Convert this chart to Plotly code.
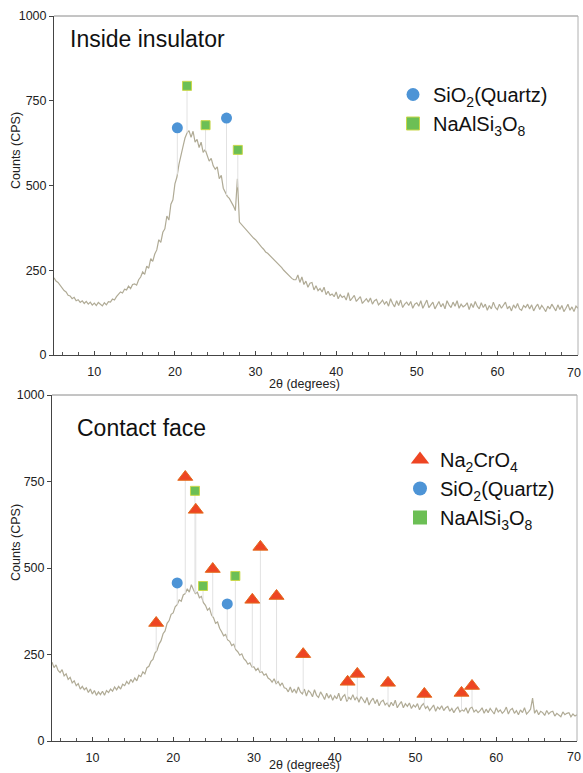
import numpy as np
import plotly.graph_objects as go

# ---------------- DATA ----------------
two_theta_start = 5.0
two_theta_step = 0.25

# Inside insulator pattern (counts, read every 0.25 deg from 5 to 70)
inside_counts = [
    228, 218, 214, 205,
    199, 190, 186, 176,
    174, 166, 170, 160,
    163, 155, 160, 152,
    158, 150, 156, 147,
    153, 146, 155, 149,
    145, 154, 148, 157,
    156, 165, 162, 172,
    178, 186, 183, 194,
    192, 203, 196, 208,
    210, 206, 222, 230,
    245, 238, 262, 256,
    284, 276, 298, 310,
    340, 332, 362, 372,
    410, 398, 445, 458,
    505, 525, 562, 585,
    615, 640, 655, 662,
    642, 660, 628, 636,
    612, 628, 598, 606,
    588, 572, 580, 558,
    548, 555, 520, 530,
    492, 478, 468, 462,
    452, 440, 426, 520,
    392, 385, 378, 372,
    366, 358, 350, 345,
    340, 332, 326, 318,
    312, 304, 300, 294,
    290, 284, 276, 270,
    266, 258, 250, 244,
    236, 232, 226, 222,
    222, 236, 214, 230,
    208, 218, 200, 212,
    214, 192, 204, 190,
    196, 186, 200, 178,
    188, 176, 180, 172,
    186, 166, 178, 170,
    174, 162, 184, 160,
    168, 176, 158, 164,
    172, 152, 160, 166,
    156, 168, 150, 160,
    164, 148, 154, 162,
    150, 158, 144, 166,
    152, 142, 160, 146,
    162, 140, 150, 156,
    146, 158, 138, 150,
    154, 144, 160, 138,
    150, 162, 140, 148,
    156, 136, 146, 158,
    142, 152, 136, 160,
    148, 140, 156, 144,
    160, 138, 150, 142,
    146, 154, 134, 152,
    140, 158, 144, 136,
    154, 140, 150, 132,
    146, 136, 156, 140,
    134, 150, 138, 148,
    156, 136, 144, 130,
    148, 138, 152, 136,
    132, 146, 140, 150,
    136, 148, 130, 142,
    150, 134, 146, 138,
    128, 144, 136, 150,
    140, 130, 148, 134,
    146, 128, 138, 150,
    132, 142, 128, 144,
    138,
]

# Contact face pattern (counts, read every 0.25 deg from 5 to 70)
contact_counts = [
    228, 212, 220, 204,
    198, 206, 188, 194,
    178, 184, 168, 174,
    160, 166, 150, 158,
    148, 154, 140, 150,
    136, 146, 132, 142,
    134, 144, 132, 146,
    140, 150, 144, 156,
    148, 158, 150, 164,
    160, 172, 164, 178,
    170, 182, 174, 190,
    186, 200, 194, 212,
    216, 230, 236, 254,
    262, 280, 290, 310,
    318, 340, 348, 366,
    370, 388, 394, 408,
    404, 422, 426, 440,
    430, 452, 438, 426,
    430, 414, 418, 400,
    392, 378, 384, 364,
    356, 340, 344, 326,
    316, 304, 308, 292,
    288, 276, 280, 264,
    258, 248, 252, 238,
    232, 222, 226, 214,
    214, 204, 210, 198,
    200, 190, 194, 182,
    178, 170, 180, 166,
    172, 160, 168, 154,
    152, 142, 156, 140,
    150, 138, 156, 142,
    136, 150, 130, 146,
    140, 128, 148, 132,
    126, 142, 132, 120,
    138, 124, 134, 118,
    130, 122, 138, 116,
    128, 134, 114, 126,
    120, 134, 118, 128,
    112, 128, 120, 110,
    126, 104, 116, 124,
    108, 120, 102, 114,
    118, 104, 110, 98,
    112, 102, 118, 96,
    106, 114, 96, 108,
    100, 110, 94, 104,
    98, 108, 90, 102,
    108, 94, 100, 88,
    96, 104, 86, 98,
    92, 102, 88, 96,
    100, 86, 94, 82,
    92, 98, 84, 90,
    86, 96, 80, 94,
    98, 84, 90, 82,
    88, 96, 80, 92,
    82, 94, 86, 78,
    96, 84, 90, 80,
    86, 98, 78, 90,
    94, 80, 88, 76,
    90, 82, 96, 78,
    84, 92, 124, 80,
    90, 76, 86, 82,
    74, 88, 78, 84,
    86, 72, 80, 76,
    70, 84, 76, 80,
    82, 70, 78, 72,
    76,
]

# Phase peak markers - Inside insulator
in_sio2_x = [20.3, 26.4]
in_sio2_y = [670, 699]
in_albite_x = [21.5, 23.8, 27.8]
in_albite_y = [794, 678, 605]

# Phase peak markers - Contact face
cf_na2cro4_x = [17.9, 21.5, 22.8, 24.9, 29.8, 30.8, 32.8, 36.1, 41.6, 42.8, 46.6, 51.1, 55.7, 57.0]
cf_na2cro4_y = [341, 763, 668, 497, 408, 561, 419, 251, 171, 194, 168, 136, 139, 159]
cf_sio2_x = [20.5, 26.7]
cf_sio2_y = [457, 396]
cf_albite_x = [22.7, 23.7, 27.7]
cf_albite_y = [723, 448, 477]

x_ticks = [10, 20, 30, 40, 50, 60, 70]
x_tick_text = ["10", "20", "30", "40", "50", "60", ""]   # "70" is drawn at the edge below
x_last_label = "70"
y_ticks = [0, 250, 500, 750, 1000]

# ---------------- STYLE ----------------
FONT = "Liberation Sans, Arial, Helvetica, sans-serif"
TRACE_COLOR = "#b0ab96"
BLUE = "#4d94d6"
GREEN = "#6cbf55"
GREEN_EDGE = "#c9d84a"
RED = "#ee4523"
RED_EDGE = "#e36a1c"

tt_in = two_theta_start + two_theta_step * np.arange(len(inside_counts))
tt_cf = two_theta_start + two_theta_step * np.arange(len(contact_counts))

fig = go.Figure()


def drop_lines(px, py, tt, counts, xa, ya):
    xs, ys = [], []
    for x, y in zip(px, py):
        base = float(np.interp(x, tt, counts))
        xs += [x, x, None]
        ys += [base, y, None]
    return go.Scatter(x=xs, y=ys, mode="lines", xaxis=xa, yaxis=ya,
                      line=dict(color="#e2e2e2", width=1),
                      showlegend=False, hoverinfo="skip")


# top panel
fig.add_trace(go.Scatter(x=tt_in, y=inside_counts, mode="lines",
                         line=dict(color=TRACE_COLOR, width=1.2),
                         xaxis="x", yaxis="y", showlegend=False))
fig.add_trace(drop_lines(in_sio2_x + in_albite_x, in_sio2_y + in_albite_y,
                         tt_in, inside_counts, "x", "y"))
fig.add_trace(go.Scatter(x=in_sio2_x, y=in_sio2_y, mode="markers", xaxis="x", yaxis="y",
                         marker=dict(symbol="circle", size=11, color=BLUE,
                                     line=dict(width=0)), showlegend=False))
fig.add_trace(go.Scatter(x=in_albite_x, y=in_albite_y, mode="markers", xaxis="x", yaxis="y",
                         marker=dict(symbol="square", size=9, color=GREEN,
                                     line=dict(width=1, color=GREEN_EDGE)), showlegend=False))
# top legend entries
fig.add_trace(go.Scatter(x=[None], y=[None], mode="markers", xaxis="x", yaxis="y",
                         name="SiO<sub>2</sub>(Quartz)", legend="legend",
                         marker=dict(symbol="circle", size=13, color=BLUE)))
fig.add_trace(go.Scatter(x=[None], y=[None], mode="markers", xaxis="x", yaxis="y",
                         name="NaAlSi<sub>3</sub>O<sub>8</sub>", legend="legend",
                         marker=dict(symbol="square", size=13, color=GREEN,
                                     line=dict(width=1, color=GREEN_EDGE))))

# bottom panel
fig.add_trace(go.Scatter(x=tt_cf, y=contact_counts, mode="lines",
                         line=dict(color=TRACE_COLOR, width=1.2),
                         xaxis="x2", yaxis="y2", showlegend=False))
fig.add_trace(drop_lines(cf_na2cro4_x + cf_sio2_x + cf_albite_x,
                         cf_na2cro4_y + cf_sio2_y + cf_albite_y,
                         tt_cf, contact_counts, "x2", "y2"))
fig.add_trace(go.Scatter(x=cf_na2cro4_x, y=cf_na2cro4_y, mode="markers", xaxis="x2", yaxis="y2",
                         marker=dict(symbol="triangle-up", size=13, color=RED,
                                     line=dict(width=1, color=RED_EDGE)), showlegend=False))
fig.add_trace(go.Scatter(x=cf_sio2_x, y=cf_sio2_y, mode="markers", xaxis="x2", yaxis="y2",
                         marker=dict(symbol="circle", size=11, color=BLUE,
                                     line=dict(width=0)), showlegend=False))
fig.add_trace(go.Scatter(x=cf_albite_x, y=cf_albite_y, mode="markers", xaxis="x2", yaxis="y2",
                         marker=dict(symbol="square", size=9, color=GREEN,
                                     line=dict(width=1, color=GREEN_EDGE)), showlegend=False))
fig.add_trace(go.Scatter(x=[None], y=[None], mode="markers", xaxis="x2", yaxis="y2",
                         name="Na<sub>2</sub>CrO<sub>4</sub>", legend="legend2",
                         marker=dict(symbol="triangle-up", size=16, color=RED)))
fig.add_trace(go.Scatter(x=[None], y=[None], mode="markers", xaxis="x2", yaxis="y2",
                         name="SiO<sub>2</sub>(Quartz)", legend="legend2",
                         marker=dict(symbol="circle", size=14, color=BLUE)))
fig.add_trace(go.Scatter(x=[None], y=[None], mode="markers", xaxis="x2", yaxis="y2",
                         name="NaAlSi<sub>3</sub>O<sub>8</sub>", legend="legend2",
                         marker=dict(symbol="square", size=14, color=GREEN)))

W, H = 583, 773


def px2x(p):
    return p / W


def px2y(p):
    return (H - p) / H


xaxis_common = dict(range=[5, 70], tickvals=x_ticks, ticktext=x_tick_text,
                    ticks="inside", ticklen=4,
                    tickcolor="#444", showline=True, linecolor="#444", linewidth=1,
                    showgrid=False, zeroline=False, automargin=False,
                    ticklabeloverflow="allow",
                    tickfont=dict(family=FONT, size=12.5, color="#222"),
                    minor=dict(dtick=2, ticks="inside", ticklen=3, tickcolor="#555"),
                    ticklabelstandoff=5)
yaxis_common = dict(range=[0, 1000], tickvals=y_ticks, ticks="outside", ticklen=4,
                    tickcolor="#444", showline=True, linecolor="#444", linewidth=1,
                    showgrid=False, zeroline=False, automargin=False,
                    ticklabeloverflow="allow",
                    tickfont=dict(family=FONT, size=12.5, color="#222"))

fig.update_layout(
    template="none",
    width=W, height=H,
    margin=dict(l=0, r=0, t=0, b=0, pad=0),
    font=dict(family=FONT, color="#222"),
    paper_bgcolor="white", plot_bgcolor="white",
    xaxis=dict(domain=[px2x(54), px2x(578)], anchor="y", **xaxis_common),
    yaxis=dict(domain=[px2y(355), px2y(16)], anchor="x", **yaxis_common),
    xaxis2=dict(domain=[px2x(52), px2x(577)], anchor="y2", **xaxis_common),
    yaxis2=dict(domain=[px2y(741), px2y(395)], anchor="x2", **yaxis_common),
    legend=dict(x=px2x(393), y=px2y(75), xanchor="left", yanchor="top",
                bgcolor="rgba(0,0,0,0)", borderwidth=0,
                font=dict(family=FONT, size=20, color="#111"),
                itemsizing="trace"),
    legend2=dict(x=px2x(400), y=px2y(440), xanchor="left", yanchor="top",
                 bgcolor="rgba(0,0,0,0)", borderwidth=0,
                 font=dict(family=FONT, size=20, color="#111"),
                 itemsizing="trace"),
    showlegend=True,
)

# light top/right frame lines
for xr, yr in (("x domain", "y domain"), ("x2 domain", "y2 domain")):
    fig.add_shape(type="line", xref=xr, yref=yr, x0=0, x1=1, y0=1, y1=1,
                  line=dict(color="#8a8a8a", width=1))
    fig.add_shape(type="line", xref=xr, yref=yr, x0=1, x1=1, y0=0, y1=1,
                  line=dict(color="#b0b0b0", width=1))

ann = [
    dict(text="Inside insulator", x=px2x(68), y=px2y(39), xanchor="left", yanchor="middle",
         font=dict(family=FONT, size=23, color="#111")),
    dict(text="Contact face", x=px2x(75), y=px2y(428), xanchor="left", yanchor="middle",
         font=dict(family=FONT, size=23, color="#111")),
    dict(text="2θ (degrees)", x=px2x(304), y=px2y(384), xanchor="center", yanchor="middle",
         font=dict(family=FONT, size=12.5, color="#222")),
    dict(text="2θ (degrees)", x=px2x(304), y=px2y(765), xanchor="center", yanchor="middle",
         font=dict(family=FONT, size=12.5, color="#222")),
    dict(text="Counts (CPS)", x=px2x(16), y=px2y(151), xanchor="center", yanchor="middle",
         textangle=-90, font=dict(family=FONT, size=12.5, color="#222")),
    dict(text="Counts (CPS)", x=px2x(16), y=px2y(543), xanchor="center", yanchor="middle",
         textangle=-90, font=dict(family=FONT, size=12.5, color="#222")),
    dict(text=x_last_label, x=px2x(583), y=px2y(373), xanchor="right", yanchor="middle",
         font=dict(family=FONT, size=12.5, color="#222")),
    dict(text=x_last_label, x=px2x(583), y=px2y(757), xanchor="right", yanchor="middle",
         font=dict(family=FONT, size=12.5, color="#222")),
]
for a in ann:
    fig.add_annotation(xref="paper", yref="paper", showarrow=False, **a)

# remove the default page margin so the figure fills the window exactly
fig.write_html("out.html",
               config={"displayModeBar": False},
               post_script="document.body.style.margin='0px';"
                           "document.body.style.overflow='hidden';")
